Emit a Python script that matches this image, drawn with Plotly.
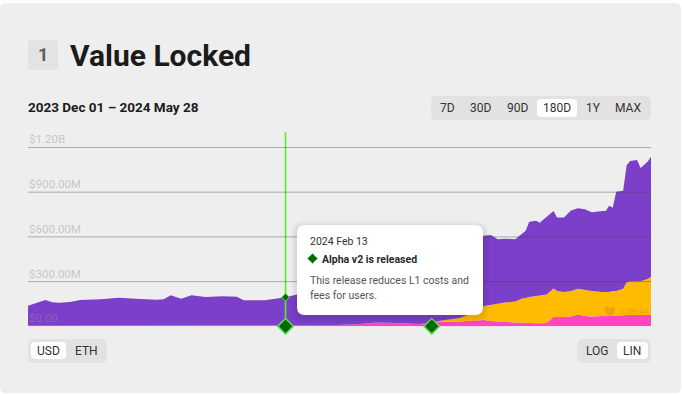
import plotly.graph_objects as go

W, H = 682, 394
FONT = "Roboto"

dates = ["2023-12-01","2023-12-04","2023-12-06","2023-12-08","2023-12-10","2023-12-13","2023-12-16","2023-12-22","2023-12-27",
         "2024-01-01","2024-01-07","2024-01-09","2024-01-11","2024-01-14","2024-01-17","2024-01-21","2024-01-26","2024-01-30",
         "2024-02-01","2024-02-07","2024-02-13","2024-02-16","2024-02-21","2024-02-27","2024-03-04","2024-03-10","2024-03-16",
         "2024-03-22","2024-03-26","2024-03-28","2024-04-03","2024-04-07","2024-04-10","2024-04-12","2024-04-14","2024-04-16",
         "2024-04-19","2024-04-21","2024-04-22","2024-04-23","2024-04-25","2024-04-26","2024-04-28","2024-04-30","2024-05-01",
         "2024-05-03","2024-05-05","2024-05-07","2024-05-09","2024-05-11","2024-05-14","2024-05-15","2024-05-16","2024-05-17",
         "2024-05-18","2024-05-20","2024-05-21","2024-05-22","2024-05-24","2024-05-25","2024-05-27","2024-05-28"]
pink = [3,3,3,3,3,3,3,3,3,3,3,3,3,3,3,3,3,3,3,3,3,4,5,8,12,25,22,15,20,29,32,39,42,36,32,29,25,24,22,22,20,20,22,
        64,62,62,66,80,69,66,69,69,71,71,72,74,75,75,76,76,76,76]
yellow = [0]*28 + [1,7,24,50,94,109,121,131,141,163,168,175,183,187,191,190,175,168,171,172,175,171,161,159,159,166,165,
                   178,221,225,226,227,241,257]
purple = [135,155,173,158,155,160,173,178,189,182,175,178,205,182,205,194,198,196,171,171,192,208,227,247,273,295,338,395,
          419,424,474,491,472,468,431,428,418,432,451,505,506,488,522,520,494,501,540,540,541,528,544,546,579,559,666,658,
          785,809,814,759,787,805]

tick_vals = [0, 300, 600, 900, 1200]
tick_text = ["$0.00", "$300.00M", "$600.00M", "$900.00M", "$1.20B"]
event_dates = ["2024-02-13", "2024-03-26"]
y_top = 1304
ranges = ["7D", "30D", "90D", "180D", "1Y", "MAX"]


def fx(x):
    return x / W


def fy(y):
    return 1 - y / H


def rrect(x0, y0, x1, y1, r, fill, opacity=1.0):
    a, b, c, d = fx(x0), fy(y0), fx(x1), fy(y1)
    rx, ry = r / W, r / H
    p = (f"M{a+rx},{b} L{c-rx},{b} Q{c},{b} {c},{b-ry} L{c},{d+ry} Q{c},{d} {c-rx},{d} "
         f"L{a+rx},{d} Q{a},{d} {a},{d+ry} L{a},{b-ry} Q{a},{b} {a+rx},{b} Z")
    return dict(type="path", path=p, xref="paper", yref="paper", fillcolor=fill, opacity=opacity,
                line=dict(width=0))


def label(x, y, text, size=12, color="#333", bold=False, anchor="center"):
    t = f"<b>{text}</b>" if bold else text
    return dict(x=fx(x), y=fy(y), xref="paper", yref="paper", text=t, showarrow=False, xanchor=anchor,
                yanchor="middle", font=dict(family=FONT, size=size, color=color), borderpad=0, borderwidth=0)


fig = go.Figure()
for name, vals, col in [("Pink", pink, "#FF46C0"), ("Yellow", yellow, "#FFBB00"), ("Purple", purple, "#7B3FC9")]:
    fig.add_trace(go.Scatter(x=dates, y=vals, name=name, mode="lines", stackgroup="one",
                             line=dict(width=0, color=col), fillcolor=col, hoverinfo="skip"))

idx = dates.index(event_dates[0])
event_total = pink[idx] + yellow[idx] + purple[idx]

fig.add_trace(go.Scatter(x=[event_dates[0], event_dates[0]], y=[0, y_top], mode="lines", hoverinfo="skip",
                         line=dict(color="#55F02A", width=1.6)))
fig.add_trace(go.Scatter(x=event_dates, y=[0, 0], mode="markers", cliponaxis=False, hoverinfo="skip",
                         marker=dict(symbol="diamond", size=12, color="#006A00",
                                     line=dict(color="#5FE05A", width=1.5))))
fig.add_trace(go.Scatter(x=[event_dates[0]], y=[event_total], mode="markers", cliponaxis=False, hoverinfo="skip",
                         marker=dict(symbol="diamond", size=6, color="#006A00",
                                     line=dict(color="#5FE05A", width=1))))

shapes = [
    rrect(0, 3, 681, 393, 6, "#EEEEEE"),
    rrect(28, 40, 58, 70, 3, "#E3E3E3"),
    rrect(431, 96, 651, 120, 6, "#E2E2E2"),
    rrect(537, 99, 577, 117, 4, "#FFFFFF"),
    rrect(28, 339, 107, 363, 6, "#E2E2E2"),
    rrect(31, 342, 66, 359, 4, "#FFFFFF"),
    rrect(577, 339, 651, 363, 6, "#E2E2E2"),
    rrect(617, 342, 648, 359, 4, "#FFFFFF"),
]
shapes = [dict(s, layer="below") for s in shapes]
for v in tick_vals[1:]:
    shapes.append(dict(type="line", xref="paper", yref="y", x0=fx(28), x1=fx(651), y0=v, y1=v,
                       line=dict(color="rgba(70,70,70,0.40)", width=1), layer="above"))
for g, op in [(6, 0.025), (4, 0.03), (2, 0.04)]:
    shapes.append(rrect(297 - g, 225 - g + 2, 483 + g, 315 + g + 2, 8 + g, "#000000", op))
shapes.append(rrect(297, 225, 483, 315, 8, "#FFFFFF"))
cx, cy, dx, dy = 312.5, 258.5, 5 / W, 5 / H
shapes.append(dict(type="path", xref="paper", yref="paper", fillcolor="#006A00", line=dict(color="#5FE05A", width=1),
                   path=f"M{fx(cx)},{fy(cy)+dy} L{fx(cx)+dx},{fy(cy)} L{fx(cx)},{fy(cy)-dy} L{fx(cx)-dx},{fy(cy)} Z"))

ann = [
    label(43, 54.5, "1", 18, "#5C5C5C", True),
    label(70, 55, "Value Locked", 30, "#1B1B1B", True, "left"),
    label(28, 107, "2023 Dec 01 – 2024 May 28", 13.5, "#1B1B1B", True, "left"),
]
for r, x in zip(ranges, [447.5, 480.3, 517, 557, 593, 628.3]):
    ann.append(label(x, 107.5, r, 12, "#333"))
ann += [
    label(48, 350.5, "USD", 12, "#333"),
    label(86, 350.5, "ETH", 12, "#333"),
    label(597, 350.5, "LOG", 12, "#333"),
    label(632, 350.5, "LIN", 12, "#333"),
    label(309.5, 241, "2024 Feb 13", 10.5, "#333", False, "left"),
    label(321.5, 259, "Alpha v2 is released", 10.5, "#2A2A2A", True, "left"),
    label(309.5, 280.5, "This release reduces L1 costs and", 10.5, "#555", False, "left"),
    label(309.5, 295.5, "fees for users.", 10.5, "#555", False, "left"),
    label(609, 311, "♥", 22, "rgba(214,120,50,0.38)"),
    label(621, 311, "L2BEAT", 8, "rgba(200,120,60,0.45)", False, "left"),
]

fig.update_layout(
    width=W, height=H, margin=dict(l=0, r=0, t=0, b=0), autosize=False,
    paper_bgcolor="#FFFFFF", plot_bgcolor="rgba(0,0,0,0)", showlegend=False,
    font=dict(family=FONT), shapes=shapes, annotations=ann,
    xaxis=dict(domain=[fx(28), fx(651)], range=["2023-12-01", "2024-05-28"], type="date", visible=False,
               showgrid=False, zeroline=False, fixedrange=True),
    yaxis=dict(domain=[fy(326.3), fy(132)], range=[0, y_top], tickmode="array", tickvals=tick_vals,
               ticktext=tick_text, ticklabelposition="inside top", showgrid=False, zeroline=False,
               showline=False, ticks="", tickfont=dict(family=FONT, size=11.5, color="rgba(149,149,149,0.47)"),
               anchor="free", position=fx(25), fixedrange=True),
)
fig.write_html("out.html", config={"displayModeBar": False},
               post_script="document.body.style.margin='0';document.body.style.overflow='hidden';")
